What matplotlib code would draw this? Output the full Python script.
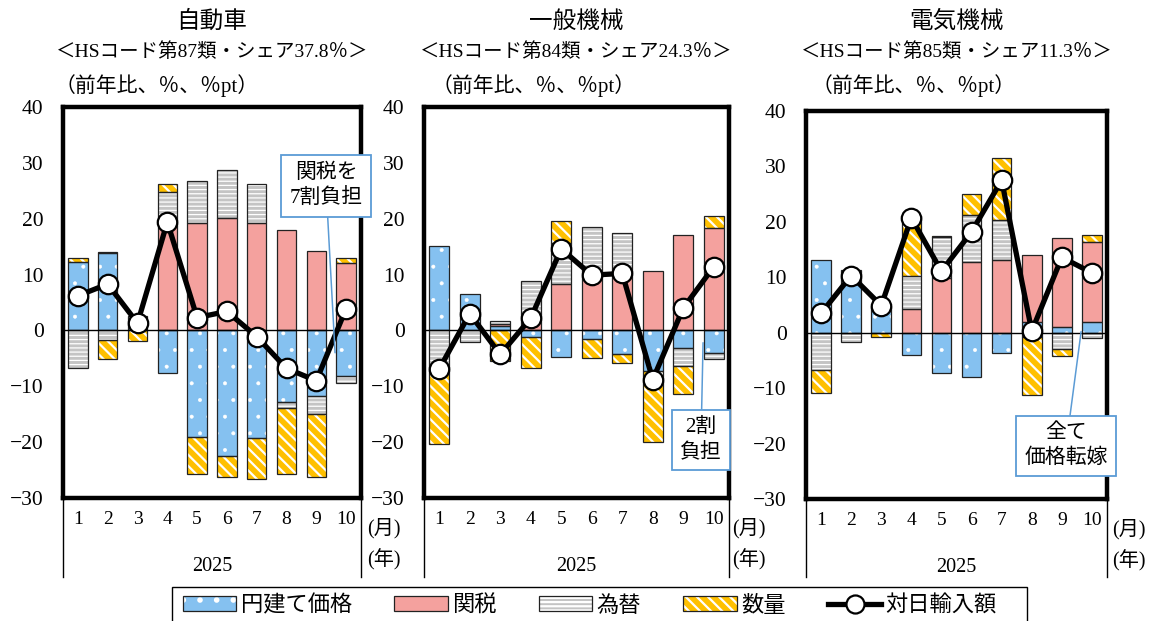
import numpy as np
import matplotlib
matplotlib.use("Agg")
import matplotlib.pyplot as plt
from matplotlib.patches import Patch, Rectangle
from matplotlib.lines import Line2D

plt.rcParams['font.family'] = ['Liberation Serif', 'Noto Sans CJK JP']
plt.rcParams['hatch.linewidth'] = 1.6

months = ["1", "2", "3", "4", "5", "6", "7", "8", "9", "10"]
year_label = "2025"

# 自動車
auto_price = [12.2, 13.8, 2.3, -7.6, -19.0, -22.5, -19.2, -12.9, -11.7, -8.2]
auto_tariff = [0, 0.2, 0, 18.7, 19.3, 20.2, 19.2, 17.9, 14.2, 12.0]
auto_fx = [-6.8, -1.7, 0.3, 6.0, 7.4, 8.5, 7.1, -1.0, -3.3, -1.2]
auto_qty = [0.8, -3.5, -1.9, 1.6, -6.7, -3.7, -7.4, -11.8, -11.2, 1.0]
auto_total = [6.2, 8.3, 1.3, 19.4, 2.3, 3.4, -1.1, -6.8, -9.0, 3.9]

# 一般機械
mach_price = [15.2, 6.5, 0.8, -1.1, -4.8, -1.5, -4.2, -7.3, -3.1, -4.0]
mach_tariff = [0, 0, 0.4, 3.0, 8.3, 10.7, 10.6, 10.6, 17.1, 18.3]
mach_fx = [-6.5, -2.0, 0.5, 5.9, 7.3, 7.9, 6.9, 0, -3.3, -1.2]
mach_qty = [-13.8, 0, -5.4, -5.7, 4.0, -3.5, -1.7, -12.6, -4.9, 2.2]
mach_total = [-6.9, 3.0, -4.3, 2.2, 14.6, 9.9, 10.2, -8.8, 4.0, 11.4]

# 電気機械
elec_price = [13.2, 11.3, 4.8, -4.1, -7.2, -8.0, -3.6, 1.9, 1.0, 2.0]
elec_tariff = [0, 0, 0, 4.3, 9.8, 12.7, 13.1, 12.1, 16.1, 14.4]
elec_fx = [-6.7, -1.7, 0, 6.0, 7.4, 8.5, 7.2, -0.8, -3.0, -1.0]
elec_qty = [-4.2, 0, -0.7, 10.7, 0.3, 3.9, 11.2, -10.4, -1.2, 1.2]
elec_total = [3.5, 10.3, 4.9, 20.7, 11.1, 18.2, 27.5, 0.3, 13.6, 10.8]

series_names = ["円建て価格", "関税", "為替", "数量"]
series_face = ["#85C1F0", "#F4A19E", "#C4C4C4", "#FFC000"]
series_hatch = [".", None, "----", "\\\\\\"]
series_hlw = [0.4, 1.0, 0.9, 1.6]
total_name = "対日輸入額"

W, H = 1155, 621
fig = plt.figure(figsize=(W / 100, H / 100), dpi=100)


def fx(px):
    return px / W


def fy(py):
    return 1 - py / H


def hatched_patch(face, hatch, hlw):
    with plt.rc_context({"hatch.linewidth": hlw}):
        p = Patch(facecolor=face, edgecolor="white", hatch=hatch, lw=0)
    if hasattr(p, "set_hatch_linewidth"):
        p.set_hatch_linewidth(hlw)
    return p


panels = [
    dict(title="自動車", sub="＜HSコード第87類・シェア37.8％＞", unit_x=55,
         box=(63, 107, 361, 498),
         comps=[auto_price, auto_tariff, auto_fx, auto_qty], total=auto_total,
         note="関税を\n7割負担", note_xy=(8.63, -4.0), note_c=(326, 186), mon_x=384),
    dict(title="一般機械", sub="＜HSコード第84類・シェア24.3％＞", unit_x=432,
         box=(424, 107, 729, 498),
         comps=[mach_price, mach_tariff, mach_fx, mach_qty], total=mach_total,
         note="2割\n負担", note_xy=(8.65, -2.2), note_c=(701, 440), mon_x=749),
    dict(title="電気機械", sub="＜HSコード第85類・シェア11.3％＞", unit_x=812,
         box=(806, 111, 1107, 499),
         comps=[elec_price, elec_tariff, elec_fx, elec_qty], total=elec_total,
         note="全て\n価格転嫁", note_xy=(8.64, 0.2), note_c=(1066, 446), mon_x=1129),
]

x = np.arange(len(months))
bw = 0.65

for p in panels:
    l, t, r, b = p["box"]
    ax = fig.add_axes([fx(l), fy(b), fx(r) - fx(l), fy(t) - fy(b)])
    pos = np.zeros(len(x))
    neg = np.zeros(len(x))
    for vals, face, hatch, hlw in zip(p["comps"], series_face, series_hatch, series_hlw):
        v = np.array(vals, dtype=float)
        bottom = np.where(v >= 0, pos, neg)
        m = v != 0
        ax.bar(x[m], v[m], bw, bottom=bottom[m], color=face, edgecolor="none", zorder=2)
        if hatch:
            with plt.rc_context({"hatch.linewidth": hlw}):
                bars = ax.bar(x[m], v[m], bw, bottom=bottom[m], color="none",
                              edgecolor="white", hatch=hatch, lw=0, zorder=2.1)
            for bar in bars:
                if hasattr(bar, "set_hatch_linewidth"):
                    bar.set_hatch_linewidth(hlw)
        ax.bar(x[m], v[m], bw, bottom=bottom[m], color="none", edgecolor="#222222",
               lw=0.9, zorder=2.2)
        pos += np.where(v > 0, v, 0)
        neg += np.where(v < 0, v, 0)
    ax.axhline(0, color="black", lw=1, zorder=3)
    ax.plot(x, p["total"], color="black", lw=3.8, marker="o", ms=14, mfc="white",
            mec="black", mew=1.6, zorder=5)

    ax.set_xlim(-0.5, len(x) - 0.5)
    ax.set_ylim(-30, 40)
    ax.set_yticks(range(-30, 41, 10))
    ax.tick_params(axis="y", length=0, pad=14, labelsize=15.5)
    ax.set_xticks([])
    for s in ax.spines.values():
        s.set_linewidth(3.2)
        s.set_zorder(6)

    # category axis below
    for i, lab in enumerate(months):
        ax.text(i, -0.056, lab, transform=ax.get_xaxis_transform(), ha="center",
                va="center", fontsize=14)
    ax.text(0.5, -0.176, year_label, transform=ax.transAxes, ha="center", va="center",
            fontsize=14.5)
    for xe in (0, 1):
        ax.plot([xe, xe], [0, -0.202], transform=ax.transAxes, color="black", lw=1,
                clip_on=False)
    fig.text(fx(p["mon_x"]), fy(b + 30), "(月)", ha="center", va="center", fontsize=14.5)
    fig.text(fx(p["mon_x"]), fy(b + 62), "(年)", ha="center", va="center", fontsize=14.5)

    # titles
    cx = (l + r) / 2
    fig.text(fx(cx), fy(22), p["title"], ha="center", va="center", fontsize=17)
    fig.text(fx(cx), fy(52), p["sub"], ha="center", va="center", fontsize=14)
    fig.text(fx(p["unit_x"]), fy(86), "（前年比、％、％pt）", ha="left", va="center",
             fontsize=15)

    ax.annotate(p["note"], xy=p["note_xy"], xycoords="data",
                xytext=(p["note_c"][0], H - p["note_c"][1]), textcoords="figure pixels",
                ha="center", va="center", multialignment="center", fontsize=15,
                linespacing=1.35, zorder=8, annotation_clip=False,
                bbox=dict(boxstyle="square,pad=0.4", fc="white", ec="#5B9BD5", lw=1.3),
                arrowprops=dict(arrowstyle="-", color="#5B9BD5", lw=1.1,
                                shrinkA=0, shrinkB=0))

# legend
handles = []
for face, hatch, hlw in zip(series_face, series_hatch, series_hlw):
    base = hatched_patch(face, hatch, hlw)
    edge = Patch(facecolor="none", edgecolor="#222222", lw=0.9)
    handles.append((base, edge))
handles.append(Line2D([], [], color="black", lw=3.8, marker="o", ms=13, mfc="white",
                      mec="black", mew=1.6))
fig.legend(handles, series_names + [total_name], loc="center",
           bbox_to_anchor=(fx(590), fy(606)), ncol=5, frameon=False, fontsize=16,
           handlelength=2.4, handleheight=0.65, handletextpad=0.2, columnspacing=1.9)
fig.add_artist(Rectangle((fx(172), fy(630)), fx(1027) - fx(172), fy(587) - fy(630),
                         transform=fig.transFigure, fill=False, ec="black", lw=1))

fig.savefig("out.png", dpi=100)
